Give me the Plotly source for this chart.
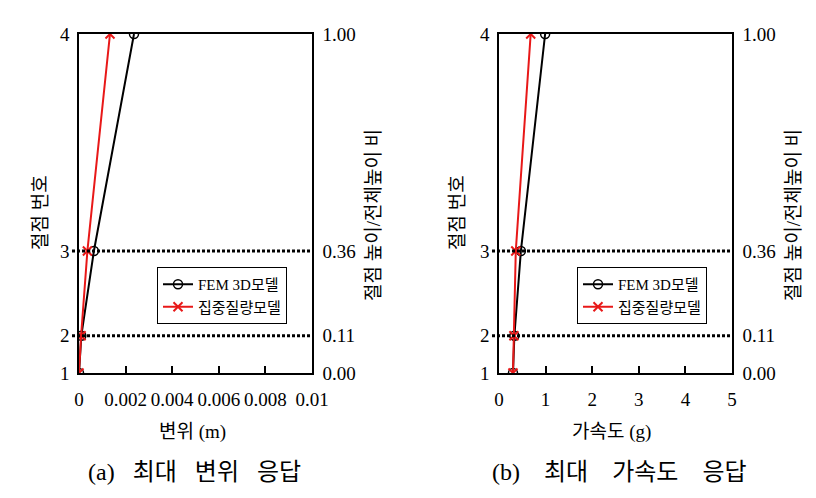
import plotly.graph_objects as go

# ---- data ----
node_labels = ["1", "2", "3", "4"]
height_ratio = [0.00, 0.11, 0.36, 1.00]
ratio_labels = ["0.00", "0.11", "0.36", "1.00"]

fem_disp = [0.0, 0.0001, 0.00064, 0.00236]
lumped_disp = [0.0, 0.00009, 0.00036, 0.00133]

fem_acc = [0.30, 0.33, 0.47, 0.99]
lumped_acc = [0.30, 0.32, 0.36, 0.68]

disp_ticks = [0, 0.002, 0.004, 0.006, 0.008, 0.01]
disp_ticktext = ["0", "0.002", "0.004", "0.006", "0.008", "0.01"]
acc_ticks = [0, 1, 2, 3, 4, 5]

series_names = ["FEM 3D모델", "집중질량모델"]

FONT = "Liberation Serif, Times New Roman, Noto Sans CJK KR, serif"
RED = "#e81818"
W, H = 816, 498
OFF = 8  # page body margin offset

def px(x):
    return (x - OFF) / W

def py(y):
    return 1 - (y - OFF) / H

fig = go.Figure()

def add_panel(xa, ya, yr, fem, lump, legend):
    fig.add_trace(go.Scatter(
        x=fem, y=height_ratio, xaxis=xa, yaxis=ya, name=series_names[0],
        mode="lines+markers", line=dict(color="black", width=2),
        marker=dict(symbol="circle-open", size=9, color="black", line=dict(width=1.5)),
        legend=legend))
    fig.add_trace(go.Scatter(
        x=lump, y=height_ratio, xaxis=xa, yaxis=ya, name=series_names[1],
        mode="lines+markers", line=dict(color=RED, width=2),
        marker=dict(symbol="x-thin-open", size=9, color=RED, line=dict(width=2, color=RED)),
        legend=legend))
    # invisible trace to carry right-hand axis
    fig.add_trace(go.Scatter(
        x=[fem[0]], y=[height_ratio[0]], xaxis=xa, yaxis=yr, mode="markers",
        marker=dict(opacity=0), showlegend=False, hoverinfo="skip"))

add_panel("x", "y", "y3", fem_disp, lumped_disp, "legend")
add_panel("x2", "y2", "y4", fem_acc, lumped_acc, "legend2")

dom1 = [px(79), px(312)]
dom2 = [px(499), px(732)]
ydom = [py(373), py(34)]

TICKSIZE = 19
xcommon = dict(showline=True, linecolor="black", linewidth=1.5, mirror=True,
               ticks="inside", ticklen=7, tickwidth=1.5, tickcolor="black",
               showgrid=False, zeroline=False, automargin=False, ticklabelstandoff=8,
               tickfont=dict(family=FONT, size=TICKSIZE, color="black"))
ycommon = dict(range=[0, 1], tickvals=height_ratio, showgrid=False, zeroline=False,
               showline=True, linecolor="black", linewidth=1.5, ticks="",
               automargin=False,
               tickfont=dict(family=FONT, size=TICKSIZE, color="black"), domain=ydom)

fig.update_layout(
    width=W, height=H, margin=dict(l=0, r=0, t=0, b=0, autoexpand=False),
    paper_bgcolor="white", plot_bgcolor="white",
    font=dict(family=FONT, color="black"),
    xaxis=dict(domain=dom1, range=[0, 0.01], tickvals=disp_ticks, ticktext=disp_ticktext,
               anchor="y", **xcommon),
    xaxis2=dict(domain=dom2, range=[0, 5], tickvals=acc_ticks, anchor="y2", **xcommon),
    yaxis=dict(anchor="x", ticktext=node_labels, ticklabelstandoff=4, **ycommon),
    yaxis2=dict(anchor="x2", ticktext=node_labels, ticklabelstandoff=4, **ycommon),
    yaxis3=dict(anchor="x", overlaying="y", side="right", ticktext=ratio_labels,
                ticklabelstandoff=5, **ycommon),
    yaxis4=dict(anchor="x2", overlaying="y2", side="right", ticktext=ratio_labels,
                ticklabelstandoff=5, **ycommon),
    legend=dict(x=px(157), y=py(267), xanchor="left", yanchor="top",
                bordercolor="black", borderwidth=1, bgcolor="white",
                font=dict(family=FONT, size=15, color="black"),
                tracegroupgap=0, itemwidth=30),
    legend2=dict(x=px(577), y=py(267), xanchor="left", yanchor="top",
                 bordercolor="black", borderwidth=1, bgcolor="white",
                 font=dict(family=FONT, size=15, color="black"),
                 tracegroupgap=0, itemwidth=30),
    showlegend=True,
)

# dotted reference lines at node heights 2 and 3
for xr in ["x", "x2"]:
    for yv in height_ratio[1:3]:
        fig.add_shape(type="line", xref=f"{xr} domain", yref="y" if xr == "x" else "y2",
                      x0=-0.03, x1=1, y0=yv, y1=yv,
                      line=dict(color="black", width=3, dash="3px,2px"))

# titles as annotations
def ann(text, x, y, size, angle=0):
    fig.add_annotation(text=text, x=px(x), y=py(y), xref="paper", yref="paper",
                       showarrow=False, textangle=angle,
                       font=dict(family=FONT, size=size, color="black"),
                       xanchor="center", yanchor="middle")

ann("절점 번호", 40, 213, 19, -90)
ann("절점 높이/전체높이 비", 373, 215, 19, -90)
ann("절점 번호", 457, 213, 19, -90)
ann("절점 높이/전체높이 비", 793, 215, 19, -90)
ann("변위 (m)", 192, 432, 19)
ann("가속도 (g)", 611, 432, 19)
ann("(a)   최대   변위   응답", 194, 472, 24)
ann("(b)    최대    가속도    응답", 619, 472, 24)

fig.write_html("out.html")
